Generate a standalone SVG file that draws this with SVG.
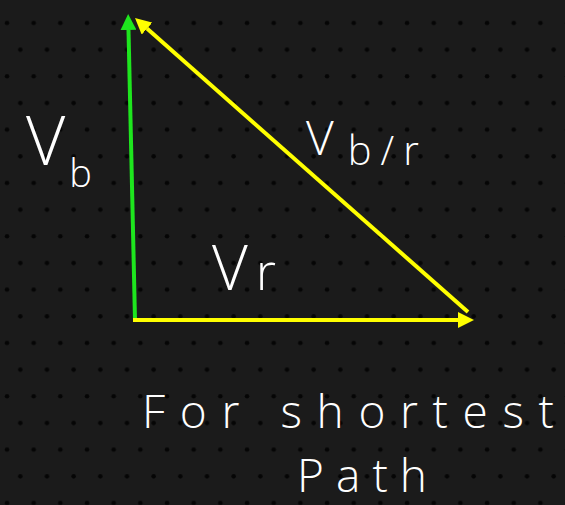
<svg xmlns="http://www.w3.org/2000/svg" width="565" height="505" viewBox="0 0 565 505">
<defs>
<pattern id="dots" x="0" y="0" width="26.67" height="53.33" patternUnits="userSpaceOnUse">
<circle cx="7" cy="23" r="2.3" fill="#050505"/>
<circle cx="20.3" cy="49.7" r="2.3" fill="#050505"/>
</pattern>
<marker id="hg" viewBox="0 0 16 16" markerWidth="16" markerHeight="16" markerUnits="userSpaceOnUse" refX="0" refY="8" orient="auto">
<path d="M0,0 L16,8 L0,16 z" fill="#1ee61e"/>
</marker>
<marker id="hy" viewBox="0 0 16 16" markerWidth="16" markerHeight="16" markerUnits="userSpaceOnUse" refX="0" refY="8" orient="auto">
<path d="M0,0 L16,8 L0,16 z" fill="#ffff00"/>
</marker>
</defs>
<style>
.lbl{fill:#ffffff;font-family:"Open Sans","Liberation Sans",sans-serif;font-weight:300}
.g{stroke:#1ee61e;stroke-width:4;fill:none}
.y{stroke:#ffff00;stroke-width:4;fill:none}
</style>
<rect x="0" y="0" width="565" height="505" fill="#1b1b1b"/>
<rect x="0" y="0" width="565" height="505" fill="url(#dots)"/>
<g id="connectors">
<line class="g" x1="135" y1="320" x2="128.5" y2="30" marker-end="url(#hg)"/>
<line class="y" x1="468" y1="312" x2="147" y2="28.6" marker-end="url(#hy)"/>
<line class="y" x1="133" y1="320" x2="458" y2="320" marker-end="url(#hy)"/>
</g>
<g id="label-vb">
<text class="lbl" x="26" y="165" font-size="68">V<tspan font-size="38" dx="4" dy="22">b</tspan></text>
</g>
<g id="label-vbr">
<text class="lbl" x="306" y="155" font-size="48">V<tspan font-size="40" dx="14" dy="10" letter-spacing="9">b/r</tspan></text>
</g>
<g id="label-vr">
<text class="lbl" x="212" y="290" font-size="62">V<tspan font-size="52" dx="8">r</tspan></text>
</g>
<g id="label-note">
<text class="lbl" x="142" y="428" font-size="46" textLength="412" lengthAdjust="spacing">For shortest</text>
<text class="lbl" x="297" y="492" font-size="46" textLength="130" lengthAdjust="spacing">Path</text>
</g>
</svg>
